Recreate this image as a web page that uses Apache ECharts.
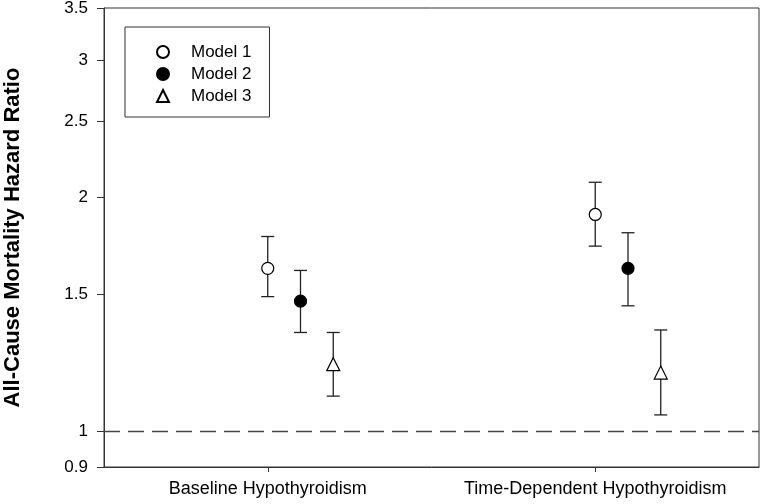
<!DOCTYPE html>
<html>
<head>
<meta charset="utf-8">
<script src="https://cdn.jsdelivr.net/npm/echarts@6/dist/echarts.min.js"></script>
<style>html,body{margin:0;padding:0;background:#fff}#c{width:762px;height:504px}</style>
</head>
<body>
<div id="c"></div>
<script>
// ---- data ----
const categories = ['Baseline Hypothyroidism', 'Time-Dependent Hypothyroidism'];
const models = ['Model 1', 'Model 2', 'Model 3'];
// hazard ratios per category for each model
const model1HR  = [1.62, 1.90];
const model1Low = [1.49, 1.73];
const model1Up  = [1.78, 2.09];
const model2HR  = [1.47, 1.62];
const model2Low = [1.34, 1.45];
const model2Up  = [1.61, 1.80];
const model3HR  = [1.22, 1.19];
const model3Low = [1.11, 1.05];
const model3Up  = [1.34, 1.35];
const yTicks = [0.9, 1, 1.5, 2, 2.5, 3, 3.5];
const refValue = 1;

// ---- build ----
const L = Math.log10;
const hr = [model1HR, model2HR, model3HR];
const lo = [model1Low, model2Low, model3Low];
const up = [model1Up, model2Up, model3Up];
const offsets = [0, 0.1, 0.2];
const symbols = ['circle', 'circle', 'triangle'];
const fills = ['#fff', '#000', '#fff'];
const xMin = 0, xMax = categories.length;

const series = [];
// reference line at HR = 1
series.push({
  type: 'line',
  silent: true,
  z: 1,
  symbol: 'none',
  lineStyle: { color: '#444', width: 1.5, type: [16, 8] },
  data: [[xMin, L(refValue)], [xMax, L(refValue)]]
});
const errData = [];
models.forEach((m, k) => {
  categories.forEach((c, i) => {
    errData.push([i + 0.5 + offsets[k], L(lo[k][i]), L(up[k][i])]);
  });
});
series.push({
  type: 'custom',
  silent: true,
  z: 2,
  data: errData,
  encode: { x: 0, y: [1, 2] },
  renderItem: function (params, api) {
    const x = api.value(0);
    const p1 = api.coord([x, api.value(1)]);
    const p2 = api.coord([x, api.value(2)]);
    const hw = 6.5;
    const st = { stroke: '#222', lineWidth: 1.3 };
    return {
      type: 'group',
      children: [
        { type: 'line', shape: { x1: p1[0], y1: p1[1], x2: p2[0], y2: p2[1] }, style: st },
        { type: 'line', shape: { x1: p1[0] - hw, y1: p1[1], x2: p1[0] + hw, y2: p1[1] }, style: st },
        { type: 'line', shape: { x1: p2[0] - hw, y1: p2[1], x2: p2[0] + hw, y2: p2[1] }, style: st }
      ]
    };
  }
});
models.forEach((m, k) => {
  series.push({
    name: m,
    type: 'scatter',
    z: 3,
    symbol: symbols[k],
    symbolSize: k === 2 ? 13 : 12,
    itemStyle: { color: fills[k], borderColor: '#000', borderWidth: 1.2, opacity: 1 },
    data: categories.map((c, i) => [i + 0.5 + offsets[k], L(hr[k][i])])
  });
});

const tickVals = yTicks.map(L);
const chart = echarts.init(document.getElementById('c'));
chart.setOption({
  animation: false,
  backgroundColor: '#fff',
  grid: { left: 104, right: 3, top: 8, bottom: 37, show: true, borderColor: '#333', borderWidth: 1, outerBoundsMode: 'none', containLabel: false },
  legend: {
    data: models,
    orient: 'vertical',
    left: 125,
    top: 27,
    padding: [16, 18, 12, 31],
    itemWidth: 12,
    itemHeight: 12,
    itemGap: 4,
    borderColor: '#333',
    borderWidth: 1,
    selectedMode: false,
    textStyle: { fontFamily: 'Liberation Sans, Arial', fontSize: 17, color: '#000', lineHeight: 18, padding: [0, 0, 0, 17] }
  },
  xAxis: {
    type: 'value',
    min: xMin,
    max: xMax,
    splitLine: { show: false },
    axisLine: { show: true, onZero: false, lineStyle: { color: '#333', width: 1 } },
    axisTick: { show: true, length: 5, customValues: [0.5, 1.5], lineStyle: { color: '#333' } },
    axisLabel: {
      customValues: [0.5, 1.5],
      margin: 13,
      fontFamily: 'Liberation Sans, Arial',
      fontSize: 18,
      color: '#000',
      formatter: v => categories[Math.round(v - 0.5)]
    }
  },
  yAxis: {
    type: 'value',
    min: L(yTicks[0]),
    max: L(yTicks[yTicks.length - 1]),
    name: 'All-Cause Mortality Hazard Ratio',
    nameLocation: 'middle',
    nameGap: 80,
    nameTextStyle: { fontFamily: 'Liberation Sans, Arial', fontSize: 22, fontWeight: 'bold', color: '#000' },
    splitLine: { show: false },
    axisLine: { show: true, onZero: false, lineStyle: { color: '#333', width: 1 } },
    axisTick: { show: true, length: 7, customValues: tickVals, lineStyle: { color: '#333' } },
    axisLabel: {
      customValues: tickVals,
      margin: 16,
      fontFamily: 'Liberation Sans, Arial',
      fontSize: 17,
      color: '#000',
      formatter: v => String(Math.round(Math.pow(10, v) * 10) / 10)
    }
  },
  series: series
});
</script>
</body>
</html>
